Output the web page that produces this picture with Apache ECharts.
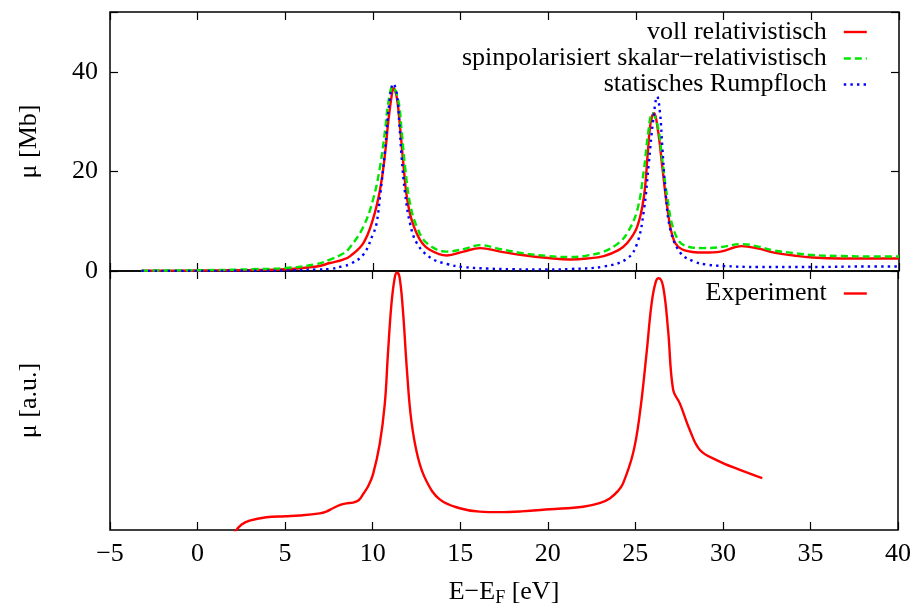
<!DOCTYPE html>
<html><head><meta charset="utf-8">
<script src="https://cdn.jsdelivr.net/npm/echarts@6/dist/echarts.min.js"></script>
<style>html,body{margin:0;padding:0;background:#fff}#c{width:914px;height:608px}</style>
</head><body><div id="c"></div>
<script>
// ---- data ----
const xTickValues = [-5, 0, 5, 10, 15, 20, 25, 30, 35, 40];
const topTickValues = [0, 20, 40];

const relName = 'voll relativistisch';
const relX = [-3.2, -1, 1, 3, 5, 6.8, 7.54, 8.3, 8.7, 9.45, 10.0, 10.4, 10.69, 10.87, 11.07, 11.16, 11.35, 11.54, 11.73, 11.93, 12.21, 12.69, 13.26, 14.21, 15.16, 16.11, 17.26, 18.5, 20, 21.26, 22.2, 23.16, 24.0, 24.5, 25.07, 25.45, 25.67, 25.83, 26.02, 26.25, 26.5, 26.78, 27.16, 27.73, 28.87, 29.83, 31.0, 32.0, 32.87, 34, 35.07, 36.7, 38.5, 40];
const relY = [0.05, 0.08, 0.12, 0.2, 0.35, 0.9, 1.6, 2.3, 3.0, 5.6, 10.4, 16.3, 23.6, 30.0, 35.3, 36.7, 35.0, 29.0, 21.6, 14.9, 10.2, 6.2, 4.2, 3.1, 3.9, 4.6, 3.9, 3.2, 2.6, 2.3, 2.5, 3.0, 4.2, 5.6, 8.9, 14.9, 23.6, 29.7, 31.7, 28.3, 20.9, 12.9, 6.2, 4.2, 3.7, 3.9, 5.0, 4.5, 3.7, 3.1, 2.7, 2.5, 2.5, 2.5];

const spinName = 'spinpolarisiert skalar\u2212relativistisch';
const spinX = [-3.2, -1, 1, 3, 5, 6.8, 7.54, 8.3, 8.7, 9.45, 10.0, 10.4, 10.69, 10.87, 11.12, 11.44, 11.63, 11.83, 12.11, 12.5, 13.07, 14.21, 15.16, 16.11, 17.26, 18.5, 20, 21.26, 22.2, 23.16, 24.0, 24.5, 25.07, 25.45, 25.67, 25.93, 26.25, 26.5, 26.78, 27.16, 27.73, 28.87, 29.83, 31.0, 32.0, 32.87, 34, 35.07, 36.7, 38.5, 40];
const spinY = [0.08, 0.12, 0.2, 0.35, 0.6, 1.4, 2.3, 3.5, 4.8, 8.9, 14.3, 20.9, 28.3, 33.7, 37.0, 34.3, 28.3, 20.9, 13.6, 8.9, 5.6, 3.9, 4.4, 5.2, 4.4, 3.6, 3.0, 2.8, 3.1, 3.9, 5.6, 7.6, 12.2, 20.3, 27.0, 31.7, 29.0, 22.3, 14.9, 8.2, 5.2, 4.6, 4.8, 5.4, 4.9, 4.1, 3.6, 3.2, 3.0, 2.9, 2.9];

const coreName = 'statisches Rumpfloch';
const coreX = [-3.2, 0, 3, 5, 6.8, 7.54, 8.3, 8.7, 9.45, 10.0, 10.2, 10.4, 10.69, 10.93, 11.16, 11.35, 11.5, 11.63, 11.83, 12.11, 12.5, 13.26, 14.21, 15.16, 16.5, 18, 20, 21.26, 23.16, 24.5, 25.07, 25.45, 25.73, 25.98, 26.21, 26.37, 26.5, 26.69, 26.97, 27.54, 28.3, 29.0, 29.97, 32.0, 35, 38, 40];
const coreY = [0.02, 0.03, 0.05, 0.1, 0.3, 0.4, 1.0, 1.4, 3.3, 7.4, 9.5, 14.9, 24.3, 33.7, 37.6, 35.7, 29.7, 23.0, 15.6, 9.6, 5.6, 2.7, 1.4, 0.8, 0.5, 0.35, 0.3, 0.4, 0.9, 2.5, 5.6, 12.2, 21.6, 30.3, 35.0, 31.7, 25.0, 15.6, 8.2, 3.6, 1.9, 1.3, 1.0, 0.8, 0.8, 0.9, 0.9];

const expName = 'Experiment';
const expX = [2.1, 2.5, 2.97, 3.93, 5.0, 5.83, 6.97, 7.35, 7.73, 8.11, 8.5, 8.87, 9.2, 9.45, 9.75, 10.02, 10.4, 10.69, 10.87, 11.07, 11.26, 11.39, 11.54, 11.73, 11.96, 12.21, 12.59, 13.07, 13.83, 14.97, 16.11, 17.26, 18.5, 20.11, 22.02, 23.0, 23.54, 24.0, 24.3, 24.87, 25.26, 25.64, 25.93, 26.17, 26.34, 26.59, 26.87, 27.16, 27.54, 28.11, 28.69, 29.64, 30.97, 32.25];
const expY = [-1, 2.0, 3.6, 4.9, 5.3, 5.6, 6.4, 7.1, 8.4, 9.6, 10.3, 10.6, 11.5, 13.8, 17, 21.5, 33.1, 48.5, 67.8, 87.1, 97.4, 99.4, 97.4, 84.6, 61.4, 42.1, 27.9, 18.9, 11.8, 8.4, 7.1, 6.9, 7.2, 8.0, 9.0, 10.5, 12.2, 15.0, 18.0, 29.6, 45.1, 68.2, 87.5, 95.9, 97.2, 93.9, 77.2, 54.1, 48.9, 38.6, 30.9, 27.0, 23.2, 20.0];

// ---- chart ----
const FONT = "'Liberation Serif', 'DejaVu Serif', serif";
const FS = 26;
const pairs = (xs, ys) => xs.map((x, i) => [x, ys[i]]);
const fmtX = v => (v < 0 ? '\u2212' + Math.abs(v) : String(v));
const tickStyle = { show: true, inside: true, length: 8, lineStyle: { color: '#000', width: 1.2 } };

const xBase = {
  type: 'value', min: -5, max: 40, interval: 5,
  axisLine: { show: false, onZero: false }, splitLine: { show: false },
  axisTick: tickStyle,
  axisLabel: { show: false }
};

function leg(name, center) {
  return {
    data: [name], right: 46, top: center - 13, orient: 'horizontal', align: 'right',
    itemWidth: 23, itemHeight: 26, padding: 0, selectedMode: false,
    itemStyle: { opacity: 0 },
    lineStyle: { width: 2.4 },
    textStyle: { fontFamily: FONT, fontSize: FS, color: '#000', lineHeight: 26, padding: [0, 12, 0, 0] }
  };
}

function lineSeries(name, data, color, type, xi, yi) {
  return {
    name: name, type: 'line', data: data, xAxisIndex: xi, yAxisIndex: yi,
    symbol: 'none', showSymbol: false, smooth: 0.4, clip: true, silent: true,
    lineStyle: { color: color, width: 2.4, type: type }, itemStyle: { color: color },
    animation: false
  };
}

const chart = echarts.init(document.getElementById('c'), null, { renderer: 'canvas' });
chart.setOption({
  backgroundColor: '#fff',
  animation: false,
  grid: [
    { left: 110, right: 15, top: 12, height: 259, show: true, borderColor: '#000', borderWidth: 1.5, backgroundColor: 'transparent' },
    { left: 110, right: 15, top: 271, height: 259, show: true, borderColor: '#000', borderWidth: 1.5, backgroundColor: 'transparent' }
  ],
  legend: [leg(relName, 32), leg(spinName, 58.5), leg(coreName, 84.5), leg(expName, 293.5)],
  xAxis: [
    Object.assign({}, xBase, { gridIndex: 0, position: 'bottom' }),
    Object.assign({}, xBase, { gridIndex: 0, position: 'top' }),
    Object.assign({}, xBase, { gridIndex: 1, position: 'top' }),
    Object.assign({}, xBase, {
      gridIndex: 1, position: 'bottom',
      axisLabel: { show: true, margin: 11, fontFamily: FONT, fontSize: FS, color: '#000', formatter: fmtX },
      name: '{m|E\u2212E}{s|F}{m| [eV]}', nameLocation: 'middle', nameGap: 49,
      nameTextStyle: {
        fontFamily: FONT, color: '#000',
        rich: {
          m: { fontFamily: FONT, fontSize: FS, color: '#000', lineHeight: 28, verticalAlign: 'top' },
          s: { fontFamily: FONT, fontSize: 18, color: '#000', lineHeight: 20, padding: [13, 0, 0, 0], verticalAlign: 'bottom' }
        }
      }
    })
  ],
  yAxis: [
    {
      type: 'value', gridIndex: 0, min: 0, max: 52, interval: 20, position: 'left',
      axisLine: { show: false, onZero: false }, splitLine: { show: false },
      axisTick: tickStyle,
      axisLabel: { margin: 12, fontFamily: FONT, fontSize: FS, color: '#000', formatter: v => (topTickValues.indexOf(v) >= 0 ? String(v) : '') },
      name: '\u03bc [Mb]', nameLocation: 'middle', nameRotate: 90, nameGap: 68,
      nameTextStyle: { fontFamily: FONT, fontSize: FS, color: '#000' }
    },
    {
      type: 'value', gridIndex: 0, min: 0, max: 52, interval: 20, position: 'right',
      axisLine: { show: false, onZero: false }, splitLine: { show: false },
      axisTick: tickStyle,
      axisLabel: { show: false }
    },
    {
      type: 'value', gridIndex: 1, min: 0, max: 100, position: 'left',
      axisLine: { show: false, onZero: false }, splitLine: { show: false }, axisTick: { show: false }, axisLabel: { show: false },
      name: '\u03bc [a.u.]', nameLocation: 'middle', nameRotate: 90, nameGap: 68,
      nameTextStyle: { fontFamily: FONT, fontSize: FS, color: '#000' }
    }
  ],
  series: [
    lineSeries(relName, pairs(relX, relY), '#ff0000', 'solid', 0, 0),
    lineSeries(spinName, pairs(spinX, spinY), '#00e600', [7, 4], 0, 0),
    lineSeries(coreName, pairs(coreX, coreY), '#0000ff', [2.4, 4.2], 0, 0),
    lineSeries(expName, pairs(expX, expY), '#ff0000', 'solid', 3, 2)
  ]
});
</script>
</body></html>
